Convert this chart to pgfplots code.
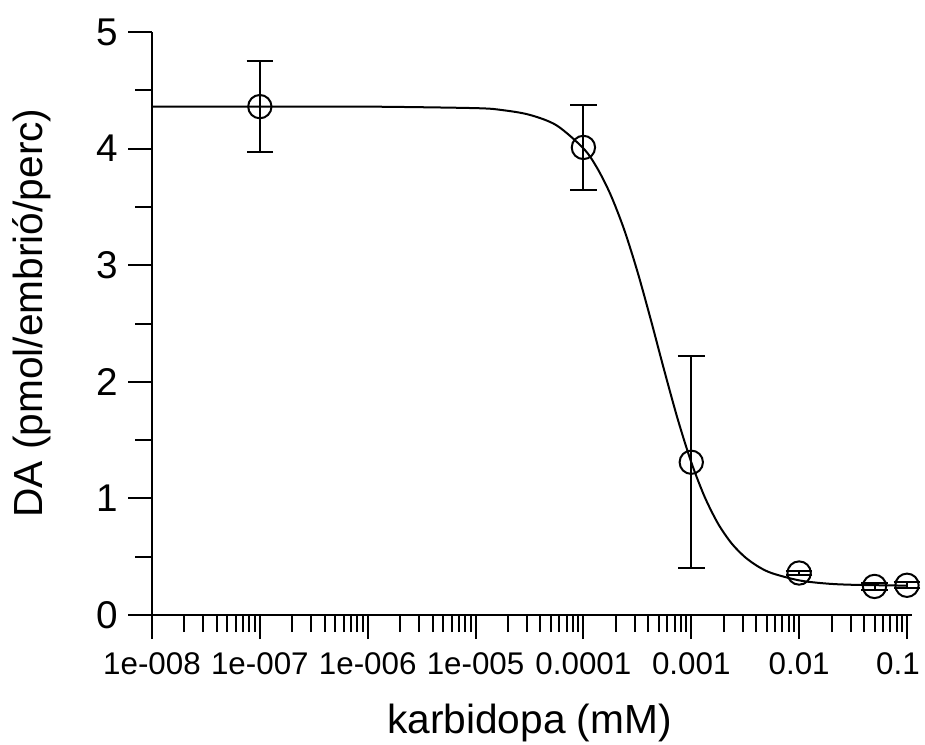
\documentclass[border=0pt]{standalone}
\usepackage{fontspec}
\setmainfont{Liberation Sans}
\usepackage{pgfplots}
\pgfplotsset{compat=1.18}
\begin{document}
\begin{tikzpicture}
\begin{axis}[
  scale only axis, width=566.25pt, height=437.25pt,
  xmode=log, xmin=1e-8, xmax=0.1, ymin=0, ymax=5,
  axis lines*=left,
  axis line style={line width=1.5pt, black},
  x axis line style={shorten >=-3.75pt},
  every tick/.append style={black, line width=1.5pt},
  tick align=outside,
  major tick length=18pt, minor tick length=12.75pt,
  xtick={1e-8,1e-7,1e-6,1e-5,1e-4,1e-3,1e-2,1e-1},
  xticklabels={1e-008,1e-007,1e-006,1e-005,0.0001,0.001,0.01,0.1\hspace*{13.5pt}},
  minor xtick={2e-8,3e-8,4e-8,5e-8,6e-8,7e-8,8e-8,9e-8,
    2e-7,3e-7,4e-7,5e-7,6e-7,7e-7,8e-7,9e-7,
    2e-6,3e-6,4e-6,5e-6,6e-6,7e-6,8e-6,9e-6,
    2e-5,3e-5,4e-5,5e-5,6e-5,7e-5,8e-5,9e-5,
    2e-4,3e-4,4e-4,5e-4,6e-4,7e-4,8e-4,9e-4,
    2e-3,3e-3,4e-3,5e-3,6e-3,7e-3,8e-3,9e-3,
    2e-2,3e-2,4e-2,5e-2,6e-2,7e-2,8e-2,9e-2},
  ytick={0,1,2,3,4,5}, yticklabels={0,1,2,3,4,5},
  minor ytick={0.5,1.5,2.5,3.5,4.5},
  xticklabel style={font=\fontsize{23.5}{23.5}\selectfont, yshift=-6.5pt},
  yticklabel style={font=\fontsize{29}{29}\selectfont, xshift=-4pt},
  label style={font=\fontsize{30.5}{30.5}\selectfont},
  xlabel={karbidopa (mM)}, ylabel={DA (pmol/embrió/perc)},
  xlabel style={at={(axis description cs:0.5,-0.186)}, anchor=center},
  ylabel style={at={(axis description cs:-0.159,0.518)}, anchor=center},
  clip=false,
]
\addplot[black, line width=1.5pt, smooth, no marks] table[x=x, y=y] {
x y
1e-8 4.360
1e-7 4.360
1e-6 4.360
1e-5 4.347
1.778e-5 4.330
3.162e-5 4.290
5.623e-5 4.200
1e-4 4.002
1.334e-4 3.837
1.778e-4 3.609
2.371e-4 3.313
3.162e-4 2.948
4.217e-4 2.532
5.623e-4 2.096
7.499e-4 1.678
1e-3 1.310
1.334e-3 1.011
1.778e-3 0.781
2.371e-3 0.613
3.162e-3 0.495
4.217e-3 0.413
5.623e-3 0.358
1e-2 0.297
1.778e-2 0.270
3.162e-2 0.259
1e-1 0.252
};
\addplot[black, line width=1.5pt, only marks, mark=o, mark size=8.75pt,
  error bars/.cd, y dir=both, y explicit,
  error bar style={line width=1.5pt, black},
  error mark options={black, line width=1.5pt, mark size=10pt, rotate=90}]
  table[x=x, y=y, y error=e] {
x y e
1e-7 4.36 0.39
1e-4 4.01 0.365
1e-3 1.31 0.91
1e-2 0.36 0.02
5e-2 0.245 0.03
1e-1 0.255 0.025
};
\end{axis}
\pgfresetboundingbox
\path[use as bounding box] (-114pt,-96.75pt) rectangle (579.75pt,461.25pt);
\end{tikzpicture}
\end{document}
